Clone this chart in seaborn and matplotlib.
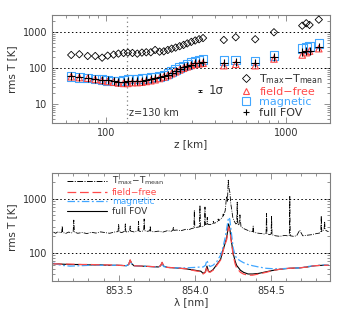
import numpy as np
import pandas as pd
import seaborn as sns
import matplotlib
matplotlib.use("Agg")
import matplotlib.pyplot as plt
from matplotlib.lines import Line2D
from matplotlib.ticker import FixedLocator, NullFormatter, LogLocator, MultipleLocator

# ---------------- data: top panel ----------------
z_km = [64, 71, 79, 87, 95, 102, 110, 117, 125, 132, 140, 149, 158, 167,
        177, 187, 198, 209, 220, 231, 243, 256, 269, 282, 297, 312, 328, 345,
        450, 524, 672, 854, 1226, 1290, 1346, 1515]
t_maxmean = [234, 245, 219, 219, 197, 224, 239, 255, 266, 272, 266, 255, 272, 278,
             278, 322, 289, 295, 322, 350, 375, 410, 445, 490, 540, 590, 640, 690,
             611, 727, 640, 1000, 1525, 1778, 1596, 2240]
t_fieldfree = [58, 55, 53, 49, 46, 43, 41, 39, 38, 38, 40, 40, 41, 43,
               45, 48, 52, 57, 63, 71, 80, 90, 100, 110, 120, 128, 133, 138,
               118, 129, 118, 181, 234, 271, 300, 350]
t_magnetic = [58.5, 56, 54, 50.5, 48, 46.5, 44.5, 44.5, 46.5, 50.5, 50.5, 50.5, 51.5, 52.5,
              55, 57, 60, 64, 71, 80, 91, 104, 116, 129, 143, 153, 165, 175,
              163, 170, 160, 224, 359, 383, 398, 494]
t_fullfov = [60, 57, 55, 51, 48, 46, 44, 42, 42, 43, 44, 44, 45, 47,
             49, 52, 56, 61, 67, 75, 85, 95, 106, 117, 127, 136, 144, 152,
             140, 145, 140, 205, 275, 300, 310, 380]

# ---------------- data: bottom panel ----------------
lam_prof = [853.07, 853.12, 853.18, 853.25, 853.31, 853.38, 853.44, 853.50, 853.55, 853.565,
            853.575, 853.585, 853.60, 853.65, 853.71, 853.76, 853.775, 853.785, 853.795, 853.82,
            853.87, 853.94, 854.00, 854.04, 854.055, 854.07, 854.08, 854.09, 854.10, 854.12,
            854.145, 854.17, 854.185, 854.20, 854.21, 854.222, 854.23, 854.24, 854.253, 854.265,
            854.275, 854.30, 854.32, 854.35, 854.38, 854.42, 854.47, 854.52, 854.56, 854.62,
            854.69, 854.74, 854.79, 854.84, 854.88]
prof_full = [62, 61, 60, 60, 59, 59, 58, 58, 57, 60,
             72, 62, 57, 56, 55, 54, 57, 65, 56, 53,
             52, 50, 47, 45, 41, 44, 56, 45, 44, 48,
             60, 75, 110, 150, 190, 340, 280, 170, 95, 70,
             58, 47, 43, 40, 40, 41, 44, 47, 49, 51,
             52, 54, 57, 58, 58]
prof_ff = [62, 61, 61, 60, 60, 59, 59, 58, 57, 60,
           73, 62, 57, 56, 55, 54, 57, 66, 56, 53,
           52, 50, 46, 44, 40, 43, 55, 44, 43, 47,
           58, 73, 105, 145, 175, 300, 260, 160, 88, 62,
           52, 43, 40, 38, 38, 40, 43, 47, 49, 51,
           52, 54, 57, 58, 58]
prof_mag = [64, 58, 56, 57, 58, 58, 58, 58, 57, 60,
            70, 62, 57, 56, 55, 54, 56, 63, 55, 53,
            52, 52, 53, 54, 54, 58, 72, 60, 55, 58,
            68, 90, 125, 190, 280, 450, 420, 240, 120, 90,
            78, 70, 65, 60, 57, 54, 51, 50, 50, 51,
            52, 55, 57, 59, 58]

lam_max = [853.07, 853.085, 853.10, 853.115, 853.125, 853.128, 853.131, 853.15, 853.17, 853.19,
           853.200, 853.204, 853.208, 853.23, 853.26, 853.29, 853.32, 853.35, 853.38, 853.41,
           853.44, 853.47, 853.495, 853.499, 853.503, 853.52, 853.540, 853.543, 853.546, 853.56,
           853.572, 853.575, 853.578, 853.60, 853.627, 853.630, 853.633, 853.65, 853.664, 853.667,
           853.670, 853.69, 853.704, 853.707, 853.710, 853.73, 853.76, 853.79, 853.82, 853.845,
           853.856, 853.859, 853.862, 853.88, 853.91, 853.94, 853.96, 853.98, 853.994, 853.997,
           854.000, 854.015, 854.031, 854.034, 854.037, 854.05, 854.064, 854.067, 854.070, 854.079,
           854.082, 854.085, 854.10, 854.119, 854.122, 854.125, 854.14, 854.151, 854.154, 854.157,
           854.17, 854.184, 854.187, 854.19, 854.20, 854.209, 854.215, 854.220, 854.226, 854.231,
           854.237, 854.242, 854.25, 854.26, 854.270, 854.276, 854.279, 854.282, 854.290, 854.297,
           854.304, 854.32, 854.34, 854.36, 854.381, 854.384, 854.387, 854.41, 854.44, 854.460,
           854.469, 854.472, 854.475, 854.49, 854.502, 854.505, 854.508, 854.53, 854.56, 854.59,
           854.610, 854.622, 854.625, 854.628, 854.65, 854.67, 854.690, 854.71, 854.74, 854.77,
           854.80, 854.82, 854.829, 854.832, 854.835, 854.845, 854.851, 854.854, 854.857, 854.87,
           854.88]
tmax_spec = [240, 228, 245, 232, 240, 310, 238, 226, 240, 232,
             245, 400, 240, 228, 236, 225, 238, 230, 242, 235,
             228, 240, 245, 330, 242, 235, 250, 340, 245, 238,
             255, 310, 250, 242, 255, 380, 250, 245, 260, 420,
             255, 248, 255, 310, 250, 242, 250, 240, 255, 248,
             262, 300, 258, 262, 255, 270, 265, 280, 285, 610,
             290, 295, 300, 750, 305, 300, 320, 700, 330, 340,
             450, 335, 330, 345, 380, 350, 360, 380, 420, 390,
             420, 460, 520, 480, 600, 1100, 900, 2200, 1500, 1300,
             800, 650, 450, 380, 340, 350, 860, 340, 320, 500,
             300, 280, 265, 250, 245, 310, 240, 230, 225, 220,
             230, 530, 225, 215, 220, 470, 215, 205, 200, 208,
             205, 210, 1100, 205, 200, 205, 260, 205, 210, 215,
             225, 230, 240, 480, 245, 260, 270, 380, 265, 250,
             245]

legend_labels = ["T$_{\\rm max}$−T$_{\\rm mean}$", "field−free", "magnetic", "full FOV"]

# ---------------- style ----------------
RED = "#ff4a4a"
BLUE = "#40a6ff"
GRAY = "#808080"
TXT = "#333333"
sns.set_style("ticks")
plt.rcParams["font.family"] = ["DejaVu Sans"]
plt.rcParams["font.size"] = 7

fig = plt.figure(figsize=(3.46, 3.14), dpi=100)
ax1 = fig.add_axes([0.150, 0.608, 0.804, 0.344])
ax2 = fig.add_axes([0.150, 0.106, 0.804, 0.343])


def style_axes(ax):
    for s in ax.spines.values():
        s.set_color(GRAY)
        s.set_linewidth(0.8)
    ax.tick_params(which="both", direction="in", top=True, right=True,
                   colors=GRAY, labelcolor=TXT, labelsize=7, width=0.6)
    ax.tick_params(which="major", length=4)
    ax.tick_params(which="minor", length=2)


# ---------------- top panel ----------------
top = pd.DataFrame({"z": z_km, "tmax": t_maxmean, "ff": t_fieldfree,
                    "mag": t_magnetic, "full": t_fullfov})
sns.scatterplot(data=top, x="z", y="mag", marker="s", s=38, color=BLUE,
                facecolor="none", edgecolor=BLUE, linewidth=0.8, ax=ax1, zorder=3)
sns.scatterplot(data=top, x="z", y="ff", marker="^", s=22, color=RED,
                facecolor="none", edgecolor=RED, linewidth=0.8, ax=ax1, zorder=4)
sns.scatterplot(data=top, x="z", y="full", marker="+", s=26, color="black",
                linewidth=0.8, ax=ax1, zorder=5)
sns.scatterplot(data=top, x="z", y="tmax", marker="D", s=14, color="black",
                facecolor="none", edgecolor="black", linewidth=0.6, ax=ax1, zorder=5)

ax1.set_xscale("log")
ax1.set_yscale("log")
ax1.set_xlim(50, 1750)
ax1.set_ylim(3, 3000)
for yv in (100, 1000):
    ax1.axhline(yv, color="black", ls=(0, (1.5, 2.5)), lw=0.7, zorder=1)
ax1.axvline(130, color=GRAY, ls=(0, (1, 2.5)), lw=0.9, zorder=1)
ax1.xaxis.set_major_locator(FixedLocator([100, 1000]))
ax1.set_xticklabels(["100", "1000"])
ax1.xaxis.set_minor_locator(LogLocator(base=10, subs=np.arange(2, 10)))
ax1.xaxis.set_minor_formatter(NullFormatter())
ax1.yaxis.set_major_locator(FixedLocator([10, 100, 1000]))
ax1.set_yticklabels(["10", "100", "1000"])
ax1.yaxis.set_minor_locator(LogLocator(base=10, subs=np.arange(2, 10)))
ax1.yaxis.set_minor_formatter(NullFormatter())
ax1.set_xlabel("z [km]", color=TXT, fontsize=7.5, labelpad=1)
ax1.set_ylabel("rms T [K]", color=TXT, fontsize=7.5, labelpad=4)
style_axes(ax1)

ax1.text(134, 5.7, "z=130 km", fontsize=7, color=TXT, va="center", ha="left")
ax1.errorbar([330], [23.5], yerr=[[1.5], [1.5]], fmt="none", ecolor="black",
             elinewidth=0.6, capsize=1.2, capthick=0.6)
ax1.text(370, 23.5, "1σ", fontsize=8.5, color=TXT, va="center", ha="left")

h_top = [
    Line2D([], [], ls="none", marker="D", ms=3.6, mfc="none", mec="black", mew=0.6),
    Line2D([], [], ls="none", marker="^", ms=4.5, mfc="none", mec=RED, mew=0.8),
    Line2D([], [], ls="none", marker="s", ms=5.5, mfc="none", mec=BLUE, mew=0.8),
    Line2D([], [], ls="none", marker="+", ms=5, mec="black", mew=0.8),
]
ax1.legend(h_top, legend_labels,
           loc="lower left", bbox_to_anchor=(0.67, 0.04), frameon=False,
           fontsize=8, labelspacing=0.05, handletextpad=0.6, handlelength=1.2,
           borderaxespad=0, borderpad=0.1,
           labelcolor=[TXT, RED, BLUE, TXT])

# ---------------- bottom panel ----------------
prof = pd.DataFrame({"lam": lam_prof, "full": prof_full, "ff": prof_ff, "mag": prof_mag})
spec = pd.DataFrame({"lam": lam_max, "tmax": tmax_spec})
sns.lineplot(data=spec, x="lam", y="tmax", color="black", lw=0.6,
             linestyle=(0, (6, 1.5, 1, 1.5)), ax=ax2, zorder=3)
sns.lineplot(data=prof, x="lam", y="full", color="black", lw=0.8, ax=ax2, zorder=3)
sns.lineplot(data=prof, x="lam", y="mag", color=BLUE, lw=0.9,
             linestyle=(0, (6, 2, 1.5, 2)), ax=ax2, zorder=4)
sns.lineplot(data=prof, x="lam", y="ff", color=RED, lw=0.9,
             linestyle=(0, (7, 3)), ax=ax2, zorder=5)

ax2.set_yscale("log")
ax2.set_xlim(853.06, 854.89)
ax2.set_ylim(30, 3000)
for yv in (100, 1000):
    ax2.axhline(yv, color="black", ls=(0, (1.5, 2.5)), lw=0.7, zorder=1)
ax2.xaxis.set_major_locator(FixedLocator([853.5, 854.0, 854.5]))
ax2.set_xticklabels(["853.5", "854.0", "854.5"])
ax2.xaxis.set_minor_locator(MultipleLocator(0.1))
ax2.yaxis.set_major_locator(FixedLocator([100, 1000]))
ax2.set_yticklabels(["100", "1000"])
ax2.yaxis.set_minor_locator(LogLocator(base=10, subs=np.arange(2, 10)))
ax2.yaxis.set_minor_formatter(NullFormatter())
ax2.set_xlabel("λ [nm]", color=TXT, fontsize=7.5, labelpad=1)
ax2.set_ylabel("rms T [K]", color=TXT, fontsize=7.5, labelpad=4)
style_axes(ax2)

h_bot = [
    Line2D([], [], color="black", lw=0.7, ls=(0, (6, 1.5, 1, 1.5))),
    Line2D([], [], color=RED, lw=0.9, ls=(0, (7, 3))),
    Line2D([], [], color=BLUE, lw=0.9, ls=(0, (6, 2, 1.5, 2))),
    Line2D([], [], color="black", lw=0.8),
]
ax2.legend(h_bot, legend_labels,
           loc="upper left", bbox_to_anchor=(0.05, 0.99), frameon=False,
           fontsize=6.5, labelspacing=0.05, handletextpad=0.5, handlelength=4.5,
           borderaxespad=0, borderpad=0.1,
           labelcolor=[TXT, RED, BLUE, TXT])

fig.savefig("out.png", dpi=100)
